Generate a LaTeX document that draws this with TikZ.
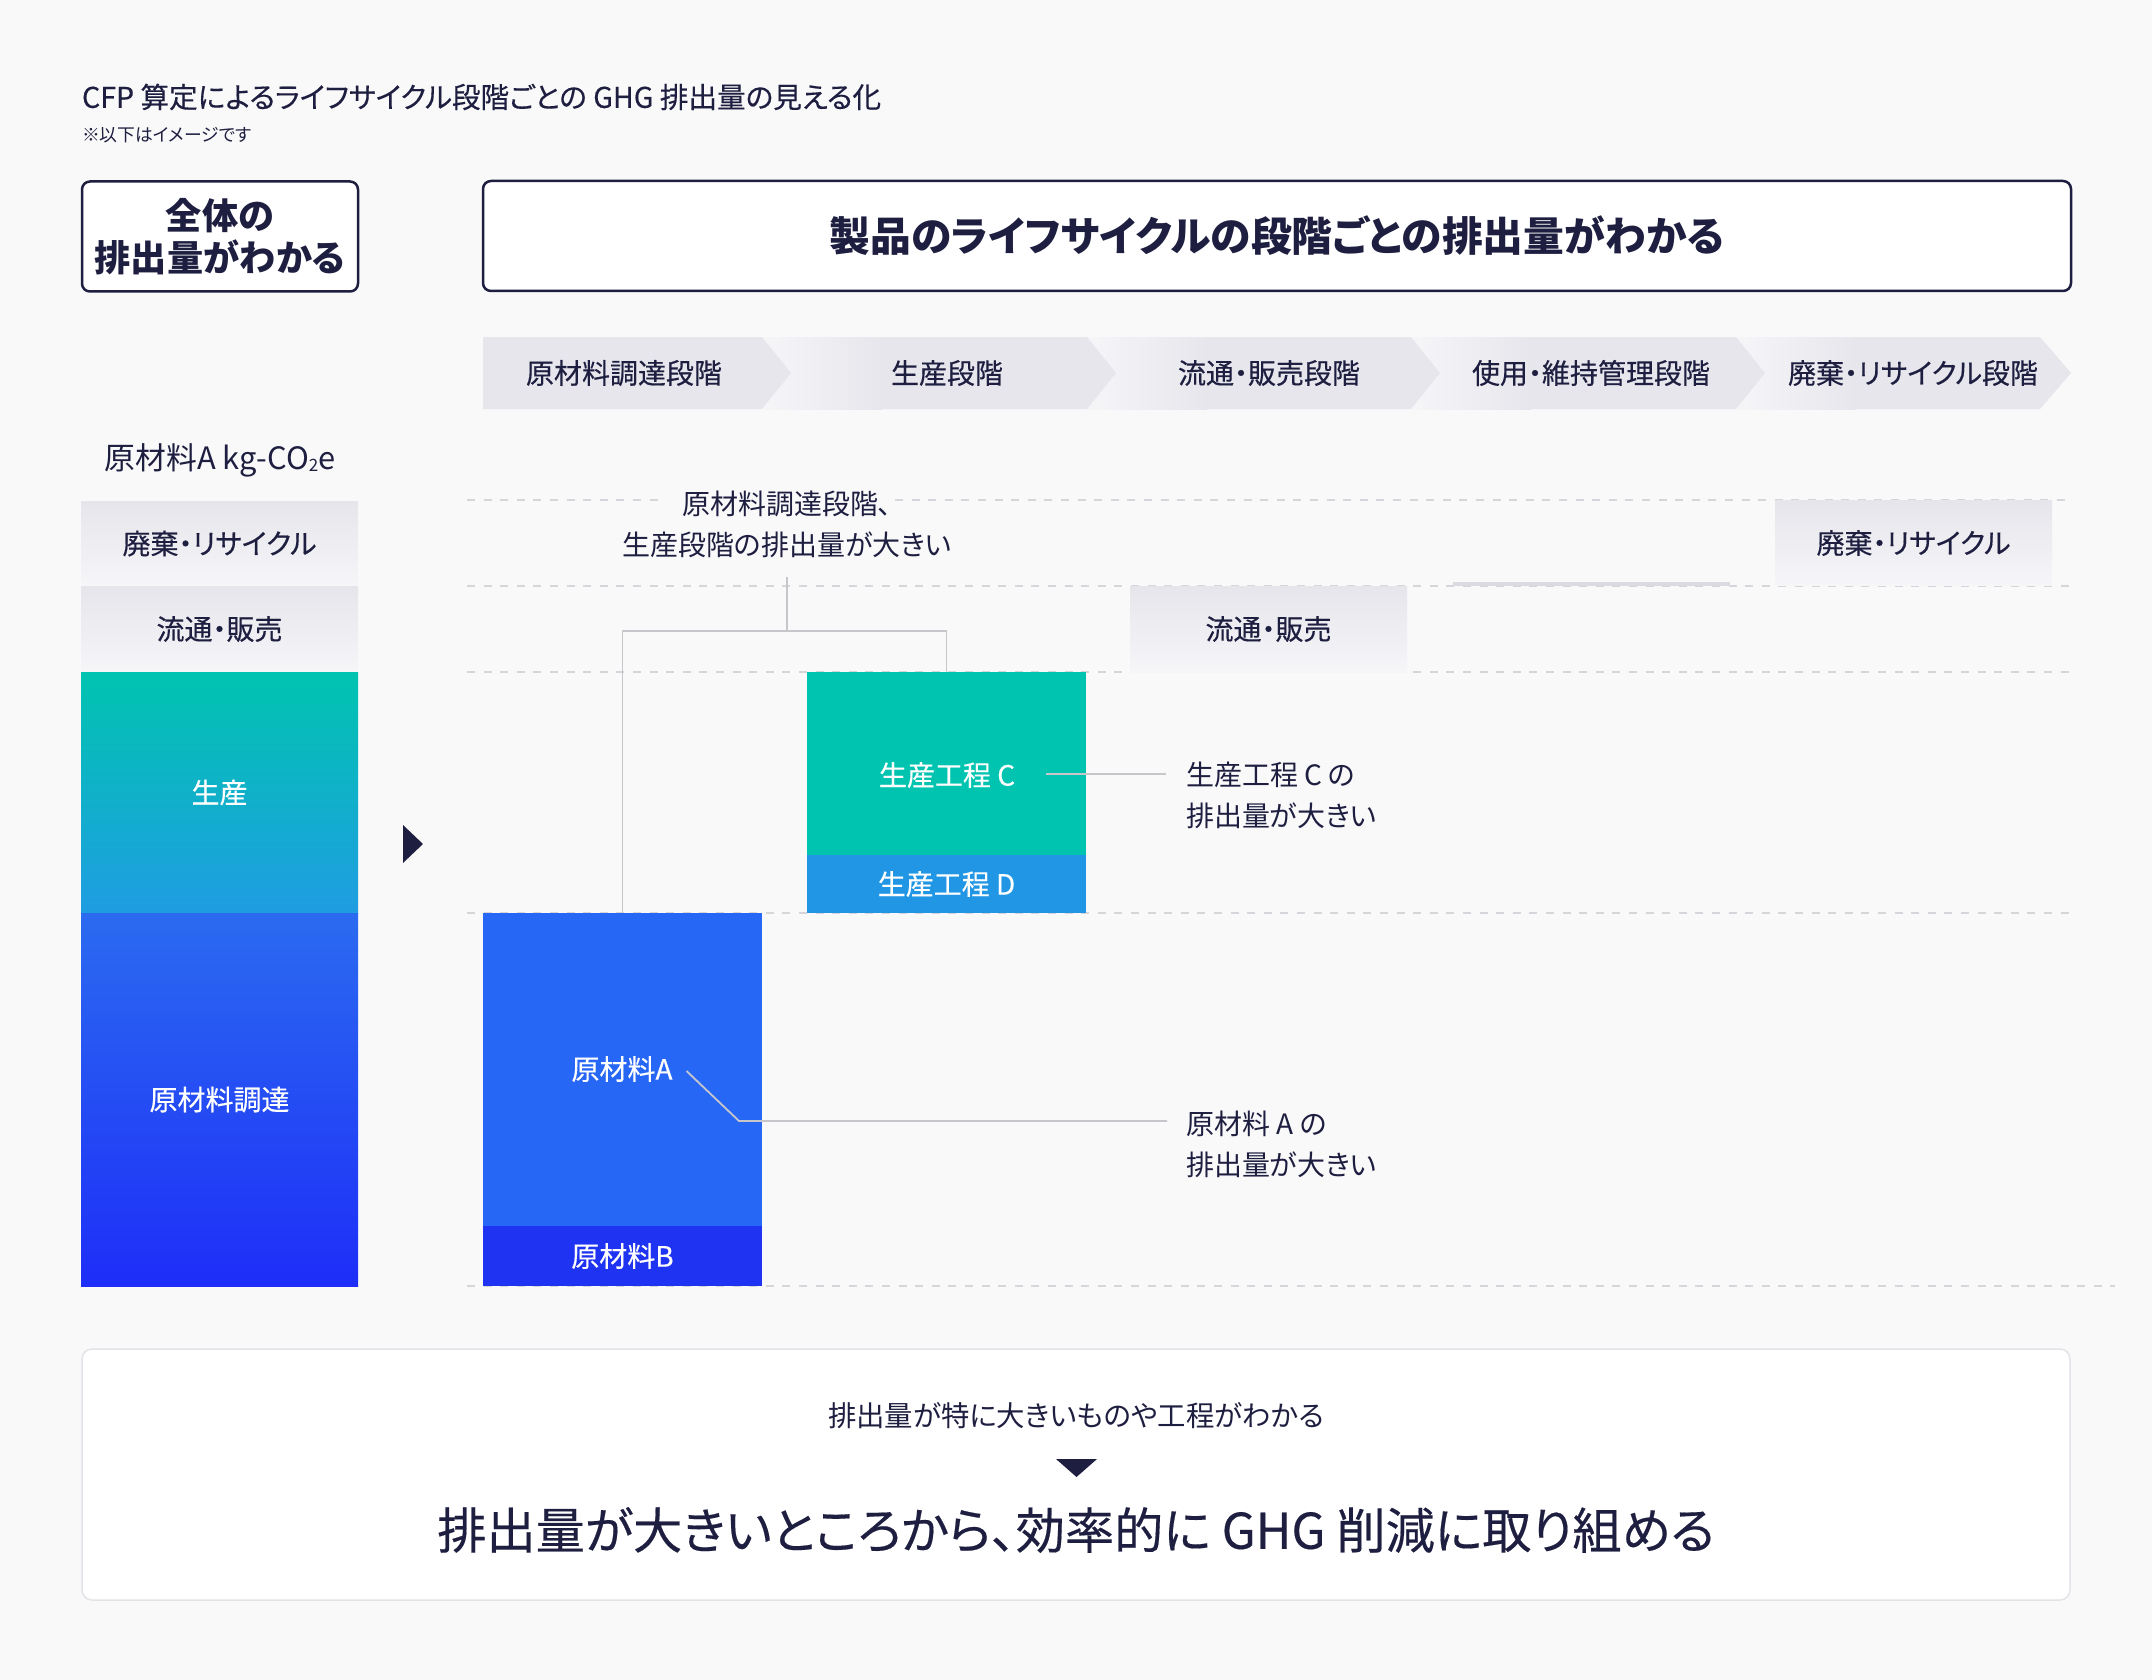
\documentclass[tikz,border=0pt]{standalone}
\usepackage{fontspec}
\setmainfont[RawFeature=+palt]{Noto Sans CJK JP}
\newfontfamily\medfont[RawFeature=+palt,FakeBold=0.35]{Noto Sans CJK JP}
\usetikzlibrary{calc}
\definecolor{bgc}{HTML}{F9F9FA}
\definecolor{ink}{HTML}{1E1E40}
\definecolor{chev}{HTML}{E6E6EC}
\definecolor{chevlt}{HTML}{F6F6F9}
\definecolor{graytop}{HTML}{E5E5EB}
\definecolor{graybot}{HTML}{F6F6F9}
\definecolor{tealc}{HTML}{00C4B0}
\definecolor{tealbot}{HTML}{1F9DE2}
\definecolor{bluetop}{HTML}{2B6BF0}
\definecolor{bluebot}{HTML}{1E2EF8}
\definecolor{blueA}{HTML}{2767F6}
\definecolor{blueB}{HTML}{1F34F2}
\definecolor{blueD}{HTML}{2196E4}
\definecolor{gridc}{HTML}{D5D5DA}
\definecolor{connc}{HTML}{C6C6CB}
\definecolor{boxline}{HTML}{E3E3E8}
\definecolor{usebar}{HTML}{DADAE0}
\begin{document}
\begin{tikzpicture}[x=0.5pt,y=-0.5pt,
  every node/.style={inner sep=0pt, outer sep=0pt},
  lbl/.style={font=\medfont\fontsize{14pt}{17pt}\selectfont, text=ink},
  wlbl/.style={font=\medfont\fontsize{14pt}{17pt}\selectfont, text=white},
  ann/.style={font=\fontsize{14pt}{20.5pt}\selectfont, text=ink, align=left},
  gridline/.style={draw=gridc, line width=0.75pt, dash pattern=on 4pt off 4.3pt},
  conline/.style={draw=connc, line width=0.9pt},
  graybox/.style={shade, top color=graytop, bottom color=graybot, minimum width=138.5pt},
  bigbox/.style={draw=ink, line width=1.25pt, rounded corners=4pt, fill=white, minimum height=55pt, align=center, text=ink}
]
\fill[bgc] (0,0) rectangle (2152,1680);
\useasboundingbox (0,0) rectangle (2152,1680);

% title
\node[anchor=west, text=ink, font=\medfont\fontsize{14.3pt}{17pt}\selectfont] (title) at (82,97) {CFP 算定によるライフサイクル段階ごとの GHG 排出量の見える化};
\node[anchor=west, text=ink, font=\fontsize{8.9pt}{10pt}\selectfont] (note) at (82,135) {※以下はイメージです};

% header boxes
\node[bigbox, minimum width=138pt, font=\bfseries\fontsize{18.1pt}{21pt}\selectfont] (whole) at (220,236.5) {全体の\\排出量がわかる};
\node[bigbox, minimum width=794pt, font=\bfseries\fontsize{20.4pt}{24pt}\selectfont] (life) at (1277,236) {製品のライフサイクルの段階ごとの排出量がわかる};

% chevrons (right to left)
\fill[chev] (1736,337) -- (2040,337) -- (2071,373) -- (2040,409) -- (1736,409) -- cycle;
\shade[left color=chevlt, right color=chev] (1736,337) rectangle (1856,409);
\fill[chev] (1411,337) -- (1736,337) -- (1765,373) -- (1736,409) -- (1411,409) -- cycle;
\shade[left color=chevlt, right color=chev] (1411,337) rectangle (1531,409);
\fill[chev] (1087,337) -- (1411,337) -- (1440,373) -- (1411,409) -- (1087,409) -- cycle;
\shade[left color=chevlt, right color=chev] (1087,337) rectangle (1207,409);
\fill[chev] (762,337) -- (1087,337) -- (1116,373) -- (1087,409) -- (762,409) -- cycle;
\shade[left color=chevlt, right color=chev] (762,337) rectangle (882,409);
\fill[chev] (483,337) -- (762,337) -- (791,373) -- (762,409) -- (483,409) -- cycle;
\node[lbl] (ch1) at (624,373) {原材料調達段階};
\node[lbl] (ch2) at (947,373) {生産段階};
\node[lbl] (ch3) at (1269,373) {流通・販売段階};
\node[lbl] (ch4) at (1591,373) {使用・維持管理段階};
\node[lbl] (ch5) at (1913,373) {廃棄・リサイクル段階};

% left stacked bar
\node[lbl, font=\fontsize{15.4pt}{18pt}\selectfont] (unit) at (220,460) {原材料A kg-CO{\fontsize{8.5pt}{8.5pt}\selectfont\raisebox{-0.25ex}{2}}e};
\node[graybox, minimum height=42.5pt, lbl] (sW) at (219.5,543.5) {廃棄・リサイクル};
\node[graybox, minimum height=43pt, lbl] (sD) at (219.5,629) {流通・販売};
\node[shade, top color=tealc, bottom color=tealbot, minimum width=138.5pt, minimum height=120.5pt, wlbl] (sP) at (219.5,792.5) {生産};
\node[shade, top color=bluetop, bottom color=bluebot, minimum width=138.5pt, minimum height=186.5pt, wlbl] (sR) at (219.5,1099.5) {原材料調達};

% arrow
\fill[ink] (403,825) -- (423,844) -- (403,863) -- cycle;

% dashed grid
\draw[gridline] (467,500) -- (664,500);
\draw[gridline] (895,500) -- (2071,500);
\draw[gridline] (467,586) -- (2071,586);
\draw[gridline] (467,672) -- (2071,672);
\draw[gridline] (467,913) -- (2071,913);
\draw[gridline] (467,1286) -- (2115,1286);

% right blocks
\node[fill=blueA, minimum width=139.5pt, minimum height=156.5pt] (bA) at (622.5,1069.5) {};
\node[wlbl] (lA) at (622,1069) {原材料A};
\node[fill=blueB, minimum width=139.5pt, minimum height=30pt, wlbl] (bB) at (622.5,1256) {原材料B};
\node[fill=tealc, minimum width=139.5pt, minimum height=91.5pt] (bC) at (946.5,763.5) {};
\node[wlbl] (lC) at (947,775) {生産工程 C};
\node[fill=blueD, minimum width=139.5pt, minimum height=29pt, wlbl] (bD) at (946.5,884) {生産工程 D};
\node[graybox, minimum height=43pt, lbl] (bDist) at (1268.5,629) {流通・販売};
\node[fill=usebar, minimum width=138.5pt, minimum height=2pt] (bUse) at (1591.5,584) {};
\node[graybox, minimum height=42.5pt, lbl] (bWaste) at (1913.5,543) {廃棄・リサイクル};

% annotations
\node[ann, align=center] (annTop) at (787,524) {原材料調達段階、\\生産段階の排出量が大きい};
\coordinate (brk) at (787,631);
\draw[conline] ([yshift=-10pt]annTop.south) -- (brk);
\draw[conline] (bA.north) -- (bA.north |- brk) -- (bC.north |- brk) -- (bC.north);

\node[ann, anchor=west] (annC) at (1186,795) {生産工程 C の\\排出量が大きい};
\draw[conline] ($(lC.east)+(31,-1)$) -- ($(annC.west |- lC.east)+(-20,-1)$);

\node[ann, anchor=west] (annA) at (1186,1144) {原材料 A の\\排出量が大きい};
\coordinate (aK) at (739,1121);
\draw[conline] ($(lA.east)+(14,2)$) -- (aK) -- ($(annA.west |- aK)+(-19,0)$);

% bottom box
\node[draw=boxline, line width=0.75pt, fill=white, rounded corners=5pt, minimum width=994pt, minimum height=125.5pt] (bottom) at (1076,1474.5) {};
\node[text=ink, font=\fontsize{14.2pt}{17pt}\selectfont] (b1) at (1076,1416) {排出量が特に大きいものや工程がわかる};
\fill[ink] (1056,1459) -- (1097,1459) -- (1076.5,1477) -- cycle;
\node[text=ink, font=\medfont\fontsize{24.6pt}{29pt}\selectfont] (b2) at (1076,1530) {排出量が大きいところから、効率的に GHG 削減に取り組める};
\end{tikzpicture}
\end{document}
